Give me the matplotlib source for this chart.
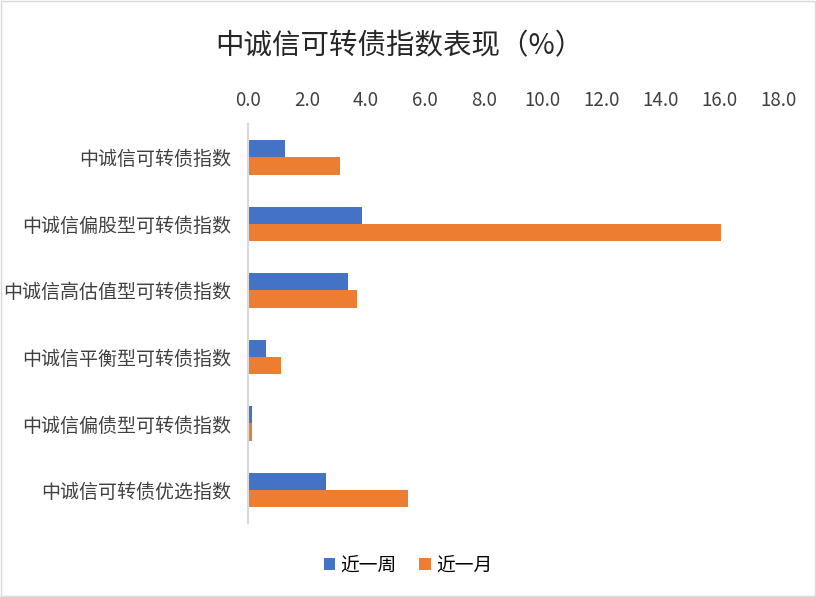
import numpy as np
import matplotlib.pyplot as plt
from matplotlib.patches import Rectangle

plt.rcParams['font.family'] = ['Noto Sans CJK SC', 'DejaVu Sans']

categories = ['中诚信可转债指数', '中诚信偏股型可转债指数', '中诚信高估值型可转债指数',
              '中诚信平衡型可转债指数', '中诚信偏债型可转债指数', '中诚信可转债优选指数']
week = [1.25, 3.88, 3.40, 0.62, 0.15, 2.63]
month = [3.11, 16.05, 3.69, 1.13, 0.15, 5.43]
xticks = np.arange(0, 18.1, 2.0)

BLUE = '#4472C4'
ORANGE = '#ED7D31'


def main():
    fig = plt.figure(figsize=(8.16, 5.97), dpi=100)
    ax = fig.add_axes([0.304, 0.1235, 0.650, 0.6688])

    y = np.arange(len(categories))
    h = 0.26
    ax.barh(y - h / 2, week, height=h, color=BLUE, label='近一周')
    ax.barh(y + h / 2, month, height=h, color=ORANGE, label='近一月')

    ax.set_xlim(0, 18)
    ax.set_ylim(len(categories) - 0.5, -0.5)
    ax.set_yticks(y)
    ax.set_yticklabels(categories, fontsize=13.7, color='#404040')
    ax.set_xticks(xticks)
    ax.set_xticklabels([f'{v:.1f}' for v in xticks], fontsize=13.5, color='#404040')
    ax.xaxis.tick_top()
    ax.tick_params(axis='both', length=0)
    ax.tick_params(axis='x', pad=9)
    ax.tick_params(axis='y', pad=12)

    for side in ['top', 'right', 'bottom']:
        ax.spines[side].set_visible(False)
    ax.spines['left'].set_color('#D9D9D9')
    ax.spines['left'].set_linewidth(1.5)

    fig.text(0.49, 0.922, '中诚信可转债指数表现（%）', ha='center', va='center',
             fontsize=20.5, color='#262626')

    ax.legend(loc='center', bbox_to_anchor=(0.5, 0.054), ncol=2, frameon=False,
              fontsize=13.5, handlelength=0.6, handleheight=0.6, columnspacing=1.2,
              handletextpad=0.3, bbox_transform=fig.transFigure)

    fig.patches.append(Rectangle((0.001, 0.001), 0.998, 0.998, transform=fig.transFigure,
                                 fill=False, edgecolor='#D9D9D9', linewidth=1))
    fig.savefig('out.png', dpi=100)


if __name__ == '__main__':
    main()
